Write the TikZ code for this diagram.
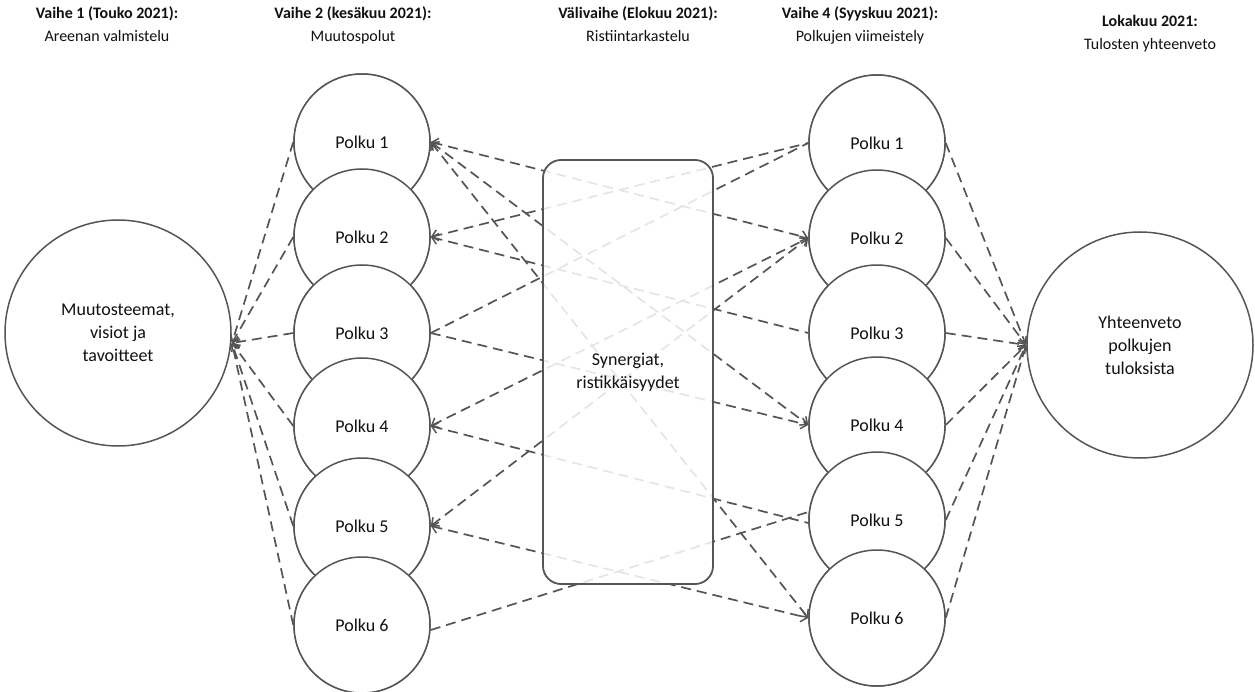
\documentclass[tikz,border=0pt]{standalone}
\usepackage{fontspec}
\setmainfont{Carlito}
\usetikzlibrary{arrows.meta}
\definecolor{ln}{HTML}{555555}
\definecolor{bd}{HTML}{555555}
\definecolor{tx}{HTML}{111111}
\tikzset{
  hdr/.style={anchor=base,text=tx,font=\fontsize{16}{18}\selectfont\bfseries,inner sep=0pt},
  sub/.style={anchor=base,text=tx,font=\fontsize{16}{18}\selectfont,inner sep=0pt},
  pk/.style={circle,draw=bd,line width=1.5pt,fill=white,minimum size=136pt,inner sep=0pt,text=tx,font=\fontsize{18}{23}\selectfont},
  big/.style={circle,draw=bd,line width=1.5pt,fill=white,minimum size=226pt,inner sep=0pt,text=tx,align=center,font=\fontsize{18}{23}\selectfont},
  conn/.style={draw=ln,line width=1.7pt,dash pattern=on 10pt off 6pt},
  tip/.tip={Straight Barb[length=6pt,width=11pt,line width=1.5pt]}
}
\begin{document}
\begin{tikzpicture}[x=1pt,y=-1pt]
\useasboundingbox (0,0) rectangle (1255,692);
% headers
\node[hdr] (h1) at (107,19) {Vaihe 1 (Touko 2021):};
\node[sub] (s1) at (107,42) {Areenan valmistelu};
\node[hdr] (h2) at (353,19) {Vaihe 2 (kesäkuu 2021):};
\node[sub] (s2) at (353,42) {Muutospolut};
\node[hdr] (h3) at (638,19) {Välivaihe (Elokuu 2021):};
\node[sub] (s3) at (638,42) {Ristiintarkastelu};
\node[hdr] (h4) at (860,19) {Vaihe 4 (Syyskuu 2021):};
\node[sub] (s4) at (860,42) {Polkujen viimeistely};
\node[hdr] (h5) at (1150,27) {Lokakuu 2021:};
\node[sub] (s5) at (1150,50) {Tulosten yhteenveto};
% hubs
\coordinate (lhub) at (232,343);
\coordinate (rhub) at (1026,345);
\foreach \i/\y in {1/142,2/237,3/333,4/426,5/526,6/625}{
  \path (362,\y) coordinate (Lc\i);
}
\foreach \i/\y in {1/143,2/238,3/333,4/425,5/520,6/618}{
  \path (877,\y) coordinate (Rc\i);
}
% circles (for anchors)
\foreach \i in {1,...,6}{
  \node[pk] (L\i) at (Lc\i) {Polku \i};
  \node[pk] (R\i) at (Rc\i) {Polku \i};
}
% connectors
\foreach \i in {1,...,6}{
  \draw[conn,-tip] (L\i.west) -- (lhub);
  \draw[conn,-tip] (R\i.east) -- (rhub);
}
\draw[conn,tip-tip] (L1.east) -- (R2.west);
\draw[conn,tip-tip] (L1.east) -- (R4.west);
\draw[conn,tip-tip] (L1.east) -- (R6.west);
\draw[conn,tip-] (L2.east) -- (R1.west);
\draw[conn,tip-] (L2.east) -- (R3.west);
\draw[conn] (L3.east) -- (R1.west);
\draw[conn,-tip] (L3.east) -- (R4.west);
\draw[conn,tip-tip] (L4.east) -- (R2.west);
\draw[conn,tip-] (L4.east) -- ([yshift=-3pt]R5.west);
\draw[conn,tip-tip] (L5.east) -- (R2.west);
\draw[conn,tip-tip] (L5.east) -- (R6.west);
\draw[conn] ([yshift=-5pt]L6.east) -- ([yshift=8pt]R5.west);
% circles on top, in stacking order
\foreach \i in {1,...,6}{
  \node[pk] (L\i b) at (Lc\i) {Polku \i};
}
\foreach \i in {1,...,6}{
  \node[pk] (R\i b) at (Rc\i) {Polku \i};
}
% big circles
\node[big] (A) at (118,333) {Muutosteemat,\\visiot ja\\tavoitteet};
\node[big] (Z) at (1140,345) {Yhteenveto\\polkujen\\tuloksista};
% central box
\node[draw=bd,line width=1.8pt,rounded corners=18pt,fill=white,fill opacity=0.85,text opacity=1,
      minimum width=170pt,minimum height=424pt,inner sep=0pt,text=tx,align=center,
      font=\fontsize{18}{23}\selectfont] (B) at (628,372) {Synergiat,\\ristikkäisyydet};
\end{tikzpicture}
\end{document}
